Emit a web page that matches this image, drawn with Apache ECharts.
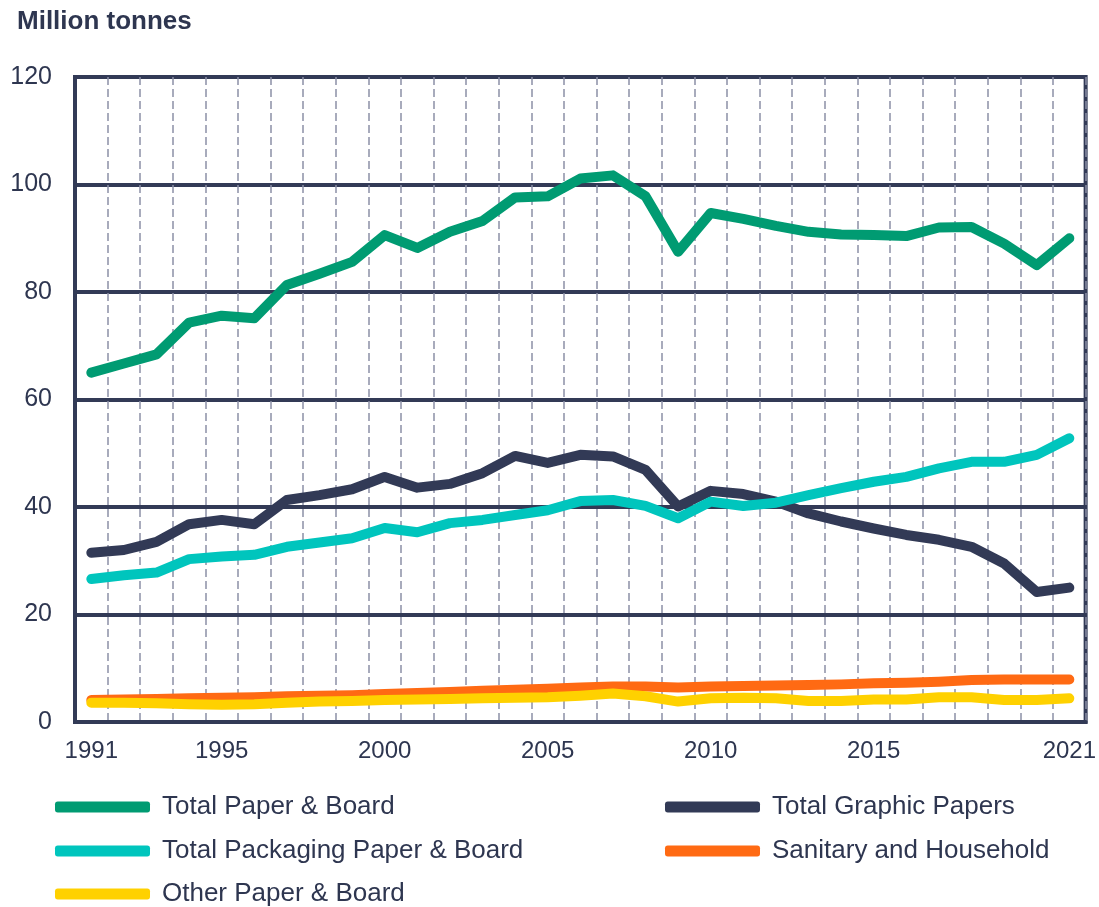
<!DOCTYPE html>
<html>
<head>
<meta charset="utf-8">
<style>
  html, body { margin: 0; padding: 0; background: #fff; }
  #chart { width: 1099px; height: 907px; }
</style>
</head>
<body>
<div id="chart"></div>
<script src="https://cdn.jsdelivr.net/npm/echarts@6/dist/echarts.min.js"></script>
<script>
var years = ['1991','1992','1993','1994','1995','1996','1997','1998','1999','2000',
  '2001','2002','2003','2004','2005','2006','2007','2008','2009','2010',
  '2011','2012','2013','2014','2015','2016','2017','2018','2019','2020','2021'];

var totalPaperBoard = [65.0, 66.7, 68.4, 74.3, 75.6, 75.1, 81.3, 83.4, 85.6, 90.6,
  88.2, 91.2, 93.2, 97.6, 97.8, 101.1, 101.7, 97.8, 87.5, 94.7,
  93.6, 92.3, 91.2, 90.7, 90.6, 90.4, 92.0, 92.1, 89.0, 85.0, 90.0];
var totalGraphic = [31.5, 32.0, 33.5, 36.8, 37.6, 36.8, 41.3, 42.2, 43.3, 45.6,
  43.6, 44.3, 46.3, 49.5, 48.2, 49.7, 49.4, 46.9, 40.1, 43.0,
  42.4, 41.0, 38.8, 37.3, 36.0, 34.8, 33.9, 32.6, 29.5, 24.2, 25.0];
var totalPackaging = [26.6, 27.3, 27.8, 30.3, 30.8, 31.1, 32.6, 33.4, 34.2, 36.1,
  35.3, 37.0, 37.6, 38.5, 39.4, 41.1, 41.3, 40.2, 37.9, 41.0,
  40.2, 40.8, 42.2, 43.5, 44.7, 45.6, 47.2, 48.4, 48.4, 49.7, 52.8];
var sanitary = [4.1, 4.2, 4.3, 4.4, 4.5, 4.6, 4.8, 4.9, 5.0, 5.2,
  5.4, 5.6, 5.8, 6.0, 6.2, 6.4, 6.6, 6.6, 6.4, 6.6,
  6.7, 6.8, 6.9, 7.0, 7.2, 7.3, 7.5, 7.8, 7.9, 7.9, 7.9];
var otherPaper = [3.6, 3.6, 3.5, 3.3, 3.2, 3.3, 3.6, 3.8, 3.9, 4.1,
  4.2, 4.3, 4.4, 4.5, 4.6, 4.9, 5.3, 4.8, 3.8, 4.4,
  4.5, 4.4, 3.9, 3.9, 4.2, 4.2, 4.6, 4.6, 4.1, 4.1, 4.4];

var shownYears = ['1991', '1995', '2000', '2005', '2010', '2015', '2021'];

var navy = '#323a56';
var textColor = '#2e3650';
var font = 'Liberation Sans, Arial, sans-serif';

var chart = echarts.init(document.getElementById('chart'));

function lineSeries(name, data, color) {
  return {
    name: name,
    type: 'line',
    data: data,
    showSymbol: false,
    symbol: 'none',
    color: color,
    lineStyle: { width: 10, color: color, cap: 'round', join: 'round' }
  };
}

// one legend per entry so the two columns sit where the reference puts them
function legendItem(name, left, top) {
  return {
    data: [name],
    left: left, top: top,
    padding: 0,
    itemWidth: 95, itemHeight: 11, itemGap: 0,
    icon: 'roundRect',
    textStyle: { color: textColor, fontSize: 26, fontFamily: font, lineHeight: 26, padding: [0, 0, 0, 7] }
  };
}

var option = {
  animation: false,
  backgroundColor: '#ffffff',
  title: {
    text: 'Million tonnes',
    left: 12,
    top: 4,
    textStyle: { color: textColor, fontSize: 26, fontWeight: 'bold', fontFamily: font }
  },
  grid: {
    left: 75, right: 12, top: 77, bottom: 185,
    show: true,
    borderColor: navy,
    borderWidth: 4
  },
  legend: [
    legendItem('Total Paper & Board', 55, 794),
    legendItem('Total Packaging Paper & Board', 55, 838),
    legendItem('Other Paper & Board', 55, 881),
    legendItem('Total Graphic Papers', 665, 794),
    legendItem('Sanitary and Household', 665, 838)
  ],
  xAxis: {
    type: 'category',
    data: years,
    boundaryGap: true,
    axisLine: { show: true, lineStyle: { color: navy, width: 4 } },
    axisTick: { show: false },
    axisLabel: {
      interval: 0,
      margin: 17,
      color: textColor,
      fontSize: 24,
      fontFamily: font,
      formatter: function (v) { return shownYears.indexOf(v) >= 0 ? v : ''; }
    },
    splitLine: {
      show: true,
      interval: 0,
      lineStyle: { color: '#8c90a6', width: 1.5, type: [8, 4] }
    }
  },
  yAxis: {
    type: 'value',
    min: 0, max: 120, interval: 20,
    axisLine: { show: true, lineStyle: { color: navy, width: 4 } },
    axisTick: { show: false },
    axisLabel: {
      margin: 23,
      color: textColor,
      fontSize: 25,
      fontFamily: font
    },
    splitLine: { show: true, lineStyle: { color: navy, width: 4 } }
  },
  series: [
    lineSeries('Total Paper & Board', totalPaperBoard, '#009b72'),
    lineSeries('Total Graphic Papers', totalGraphic, navy),
    lineSeries('Total Packaging Paper & Board', totalPackaging, '#00c5bd'),
    lineSeries('Sanitary and Household', sanitary, '#ff6a13'),
    lineSeries('Other Paper & Board', otherPaper, '#ffd100')
  ]
};

chart.setOption(option);
</script>
</body>
</html>
